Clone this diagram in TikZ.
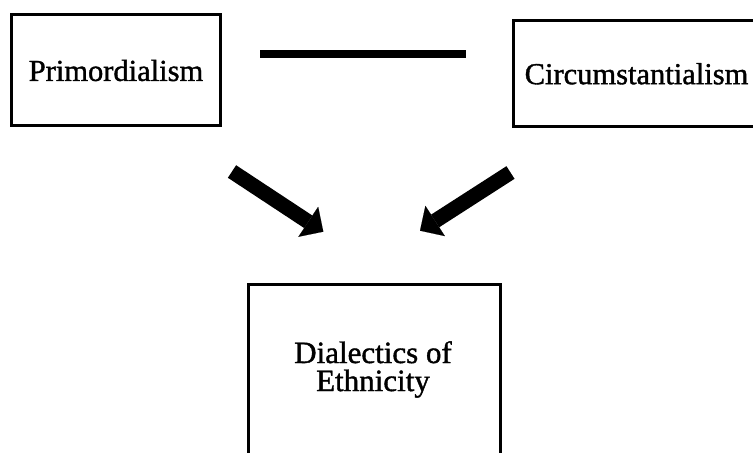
\documentclass[tikz,border=0pt]{standalone}
\usepackage{fontspec}
% scanned-looking Times: regular outlines, slightly thickened
\setmainfont{Liberation Serif}[BoldFont=Liberation Serif, BoldFeatures={FakeBold=1.2}]
\usetikzlibrary{arrows.meta}
\begin{document}
\begin{tikzpicture}[x=1bp,y=-1bp,
  conceptbox/.style={draw, line width=3bp, inner sep=0pt, outer sep=0pt,
    font=\fontsize{30.5bp}{34bp}\selectfont\bfseries},
  framebox/.style={draw, line width=3bp, inner sep=0pt, outer sep=0pt},
  boxlabel/.style={inner sep=0pt, align=center,
    font=\fontsize{31bp}{28bp}\selectfont\bfseries},
  tieline/.style={line width=7.5bp},
  bigarrow/.style={line width=15bp,
    -{Triangle[length=18bp,width=36bp,line width=0.1bp]}}]
  \useasboundingbox[fill=white] (0,0) rectangle (753,453);

  % the two opposing perspectives
  \node[conceptbox, minimum width=208bp, minimum height=111bp]
    (prim) at (116,70.5) {Primordialism};
  \node[conceptbox, minimum width=247bp, minimum height=106.5bp]
    (circ) at (636.5,73.75) {Circumstantialism};

  % the synthesis below
  \node[framebox, minimum width=252bp, minimum height=180bp]
    (dial) at (374,375) {};
  \node[boxlabel, anchor=north] (diallabel) at (373,341)
    {Dialectics of\\Ethnicity};

  % line joining the two perspectives
  \coordinate (tieL) at (260,54);
  \coordinate (tieR) at (466,54);
  \draw[tieline] (tieL) -- (tieR);

  % arrows converging on the synthesis
  \coordinate (ltail) at (232,171.5);
  \coordinate (ltip)  at (323.3,231.7);
  \coordinate (rtail) at (510.5,172.5);
  \coordinate (rtip)  at (420,230.7);
  \draw[bigarrow] (ltail) -- (ltip);
  \draw[bigarrow] (rtail) -- (rtip);
\end{tikzpicture}
\end{document}
